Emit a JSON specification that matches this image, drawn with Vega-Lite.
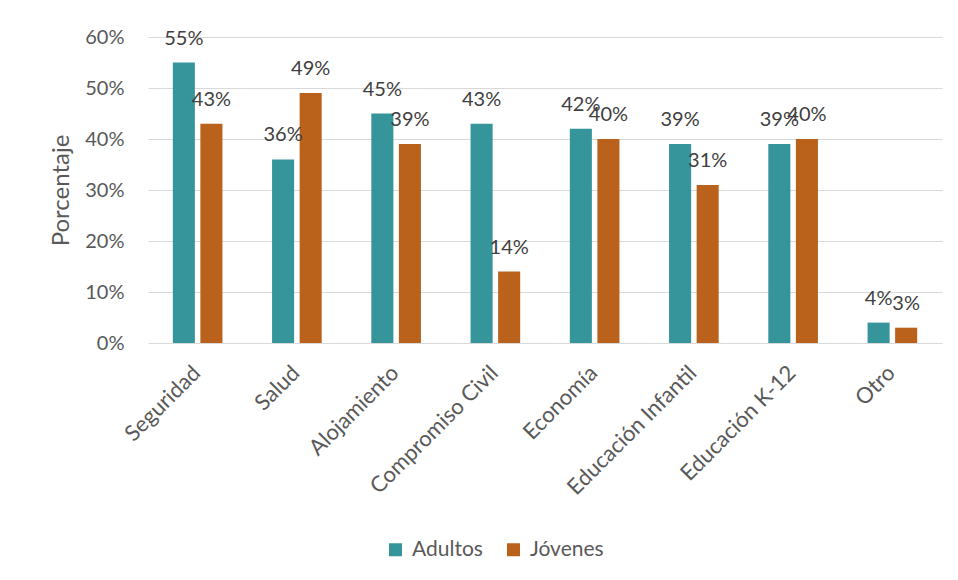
{
  "$schema": "https://vega.github.io/schema/vega-lite/v6.json",
  "width": 794,
  "height": 306,
  "autosize": {"type": "none"},
  "padding": {"left": 148, "top": 37, "right": 16, "bottom": 237},
  "background": "white",
  "data": {
    "values": [
      {"categoria": "Seguridad", "grupo": "Adultos", "valor": 0.55},
      {"categoria": "Seguridad", "grupo": "Jóvenes", "valor": 0.43},
      {"categoria": "Salud", "grupo": "Adultos", "valor": 0.36},
      {"categoria": "Salud", "grupo": "Jóvenes", "valor": 0.49},
      {"categoria": "Alojamiento", "grupo": "Adultos", "valor": 0.45},
      {"categoria": "Alojamiento", "grupo": "Jóvenes", "valor": 0.39},
      {"categoria": "Compromiso Civil", "grupo": "Adultos", "valor": 0.43},
      {"categoria": "Compromiso Civil", "grupo": "Jóvenes", "valor": 0.14},
      {"categoria": "Economía", "grupo": "Adultos", "valor": 0.42},
      {"categoria": "Economía", "grupo": "Jóvenes", "valor": 0.40},
      {"categoria": "Educación Infantil", "grupo": "Adultos", "valor": 0.39},
      {"categoria": "Educación Infantil", "grupo": "Jóvenes", "valor": 0.31},
      {"categoria": "Educación K-12", "grupo": "Adultos", "valor": 0.39},
      {"categoria": "Educación K-12", "grupo": "Jóvenes", "valor": 0.40},
      {"categoria": "Otro", "grupo": "Adultos", "valor": 0.04},
      {"categoria": "Otro", "grupo": "Jóvenes", "valor": 0.03}
    ]
  },
  "encoding": {
    "x": {
      "field": "categoria",
      "type": "nominal",
      "sort": null,
      "scale": {"paddingInner": 0.5, "paddingOuter": 0.25},
      "axis": {
        "title": null,
        "labelAngle": -45,
        "labelAlign": "right",
        "labelBaseline": "top",
        "labelPadding": 19,
        "labelOffset": -8,
        "ticks": false,
        "tickSize": 0,
        "domain": false,
        "labelFontSize": 22,
        "labelFont": "Lato",
        "labelColor": "#595959"
      }
    },
    "xOffset": {
      "field": "grupo",
      "type": "nominal",
      "scale": {"paddingInner": 0.2, "paddingOuter": 0}
    },
    "y": {
      "field": "valor",
      "type": "quantitative",
      "scale": {"domain": [0, 0.6], "nice": false},
      "axis": {
        "title": "Porcentaje",
        "values": [0, 0.1, 0.2, 0.3, 0.4, 0.5, 0.6],
        "format": ".0%",
        "ticks": false,
        "tickSize": 0,
        "domain": false,
        "labelPadding": 24,
        "labelFontSize": 20,
        "labelFont": "Lato",
        "labelColor": "#595959",
        "titleFont": "Lato",
        "titleFontSize": 24,
        "titleFontWeight": "normal",
        "titleColor": "#595959",
        "titleX": -75,
        "titleBaseline": "bottom",
        "grid": true,
        "gridColor": "#d9d9d9",
        "gridWidth": 1
      }
    }
  },
  "layer": [
    {
      "mark": {"type": "bar"},
      "encoding": {
        "color": {
          "field": "grupo",
          "type": "nominal",
          "scale": {"domain": ["Adultos", "Jóvenes"], "range": ["#36949b", "#ba611b"]},
          "legend": {
            "title": null,
            "orient": "none",
            "direction": "horizontal",
            "legendX": 237,
            "legendY": 502,
            "padding": 0,
            "symbolType": "square",
            "symbolSize": 169,
            "symbolStrokeWidth": 0,
            "labelFont": "Lato",
            "labelFontSize": 21,
            "labelColor": "#595959",
            "labelOffset": 6,
            "columnPadding": 20
          }
        }
      }
    },
    {
      "mark": {"type": "text", "dy": -18, "baseline": "alphabetic", "align": "center", "font": "Lato", "fontSize": 20, "color": "#404040"},
      "encoding": {
        "text": {"field": "valor", "type": "quantitative", "format": ".0%"}
      }
    }
  ],
  "config": {
    "view": {"stroke": null}
  }
}
